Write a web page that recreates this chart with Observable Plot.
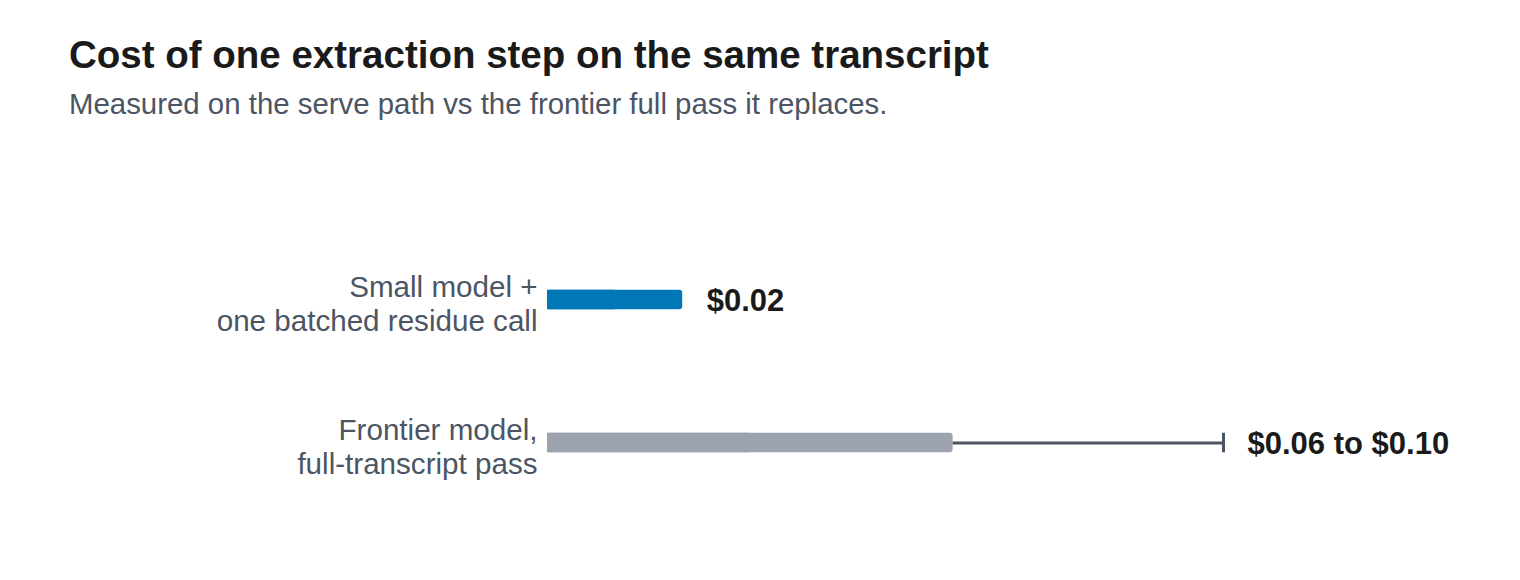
<!DOCTYPE html>
<html>
<head>
<meta charset="utf-8">
<script src="https://cdn.jsdelivr.net/npm/d3@7"></script>
<script src="https://cdn.jsdelivr.net/npm/@observablehq/plot@0.6"></script>
<style>
  html, body { margin: 0; padding: 0; background: #ffffff; }
  body { width: 1520px; height: 580px; overflow: hidden; font-family: "Liberation Sans", Arial, Helvetica, sans-serif; }
  #title { position: absolute; left: 69px; top: 33px; font-size: 38.5px; line-height: 44px; font-weight: bold; color: #1a1a1a; white-space: nowrap; }
  #subtitle { position: absolute; left: 69px; top: 87px; font-size: 29.4px; line-height: 34px; color: #4b5563; white-space: nowrap; }
  #chart { position: absolute; left: 0; top: 130px; }
</style>
</head>
<body>
<div id="title">Cost of one extraction step on the same transcript</div>
<div id="subtitle">Measured on the serve path vs the frontier full pass it replaces.</div>
<div id="chart"></div>
<script>
const categories = ["Small model +\none batched residue call", "Frontier model,\nfull-transcript pass"];
const values = [0.02, 0.06];
const highs = [null, 0.10];
const valueLabels = ["$0.02", "$0.06 to $0.10"];
const barColors = ["#0077b6", "#9ca3af"];

const rows = categories.map((c, i) => ({
  category: c,
  value: values[i],
  high: highs[i],
  label: valueLabels[i],
  color: barColors[i],
  end: highs[i] != null ? highs[i] : values[i]
}));
const ranged = rows.filter(d => d.high != null);

const bandInset = 61.75;

const chart = Plot.plot({
  width: 1520,
  height: 450,
  marginLeft: 547,
  marginRight: 297,
  marginTop: 97.75,
  marginBottom: 65.25,
  style: { fontFamily: "'Liberation Sans', Arial, Helvetica, sans-serif", background: "transparent" },
  x: { domain: [0, 0.10], axis: null },
  y: { domain: categories, padding: 0, axis: null },
  marks: [
    Plot.barX(rows, { x1: 0, x2: "value", y: "category", fill: "color", rx: 3, insetTop: bandInset, insetBottom: bandInset }),
    Plot.barX(rows, { x1: 0, x2: d => d.value / 2, y: "category", fill: "color", insetTop: bandInset, insetBottom: bandInset }),
    Plot.ruleY(ranged, { x1: "value", x2: "high", y: "category", stroke: "#4b5563", strokeWidth: 3 }),
    Plot.tickX(ranged, { x: "high", y: "category", stroke: "#4b5563", strokeWidth: 3, insetTop: bandInset, insetBottom: bandInset }),
    Plot.text(rows, { x: "end", y: "category", text: "label", textAnchor: "start", dx: 24, dy: 1, fontSize: 31, fontWeight: "bold", fill: "#1a1a1a" }),
    Plot.text(rows, { x: () => 0, y: "category", text: "category", textAnchor: "end", dx: -10, dy: 3, fontSize: 29.6, lineHeight: 1.15, fill: "#4b5563" })
  ]
});
document.getElementById("chart").appendChild(chart);
</script>
</body>
</html>
